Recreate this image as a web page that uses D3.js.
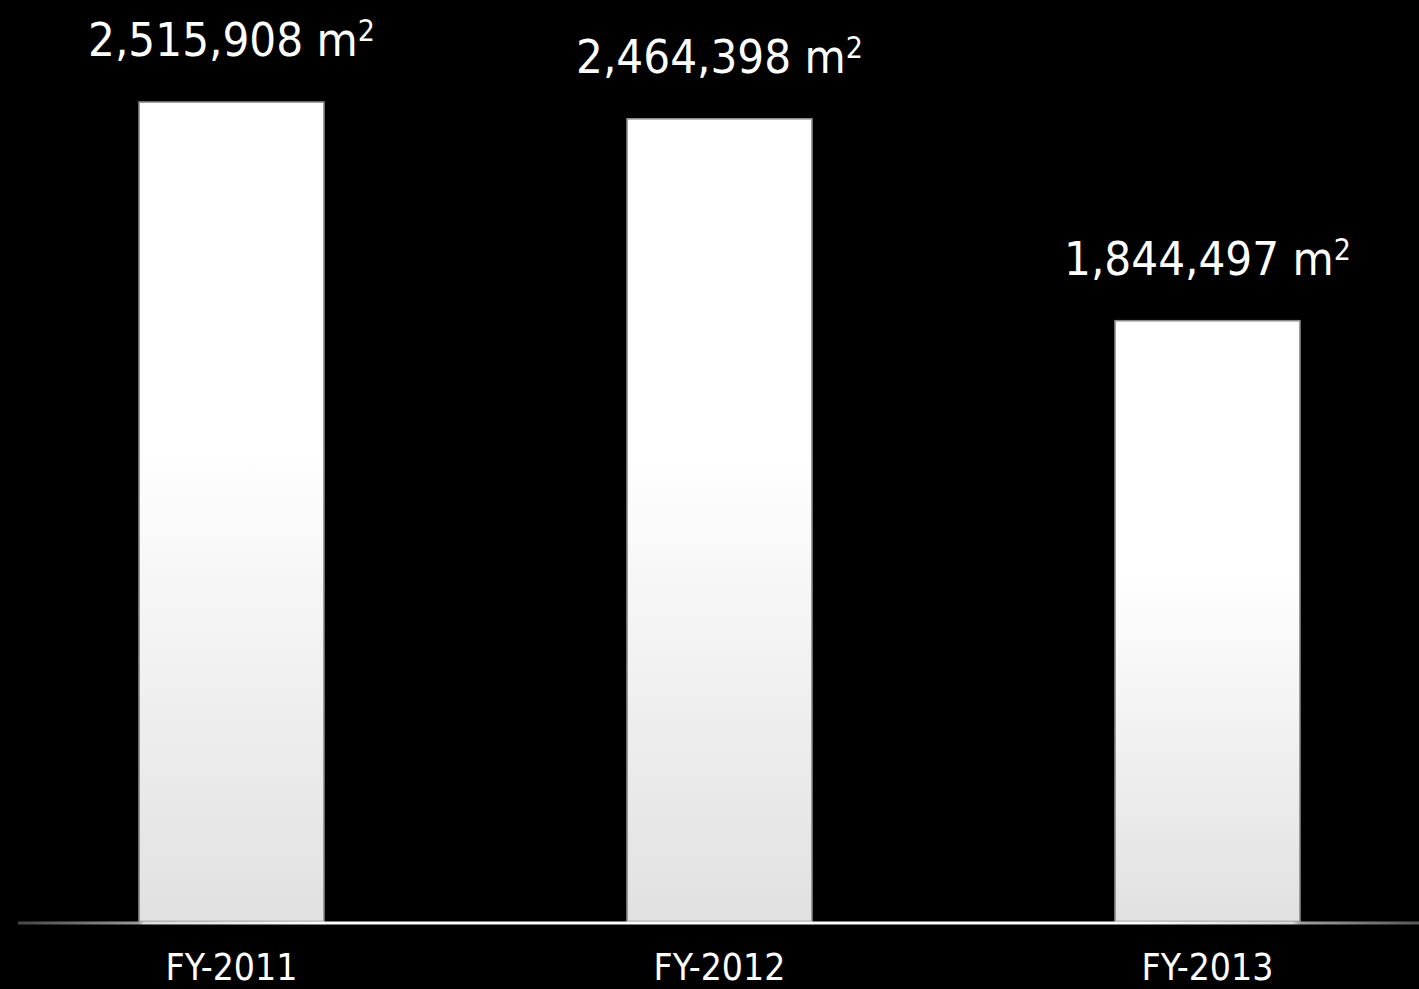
<!DOCTYPE html>
<html>
<head>
<meta charset="utf-8">
<script src="https://cdn.jsdelivr.net/npm/d3@7/dist/d3.min.js"></script>
<style>
  html, body { margin: 0; padding: 0; background: #000; }
  svg { display: block; }
  text { font-family: "DejaVu Sans Condensed", "DejaVu Sans", sans-serif; font-stretch: condensed; fill: #fff; }
</style>
</head>
<body>
<script>
// Floor area by fiscal year
const categories = ["FY-2011", "FY-2012", "FY-2013"];
const areas = [2515908, 2464398, 1844497];
const unitLabel = "m";
const unitPower = "2";

const W = 1419, H = 989;
const baseY = 921.5;

const svg = d3.select("body").append("svg")
  .attr("width", W).attr("height", H);

svg.append("rect").attr("width", W).attr("height", H).attr("fill", "#000");

const defs = svg.append("defs");

// vertical shading of the bars: white on top, light grey at the foot
const barGrad = defs.append("linearGradient")
  .attr("id", "barFill").attr("x1", 0).attr("y1", 0).attr("x2", 0).attr("y2", 1);
barGrad.append("stop").attr("offset", "0%").attr("stop-color", "#ffffff");
barGrad.append("stop").attr("offset", "42%").attr("stop-color", "#ffffff");
barGrad.append("stop").attr("offset", "100%").attr("stop-color", "#e1e1e1");

// baseline fades to grey at both ends
const axisGrad = defs.append("linearGradient")
  .attr("id", "axisFill").attr("x1", 0).attr("y1", 0).attr("x2", 1).attr("y2", 0);
[["0%", "#464646"], ["8.6%", "#9a9a9a"], ["9%", "#dcdcdc"], ["22%", "#ffffff"],
 ["80%", "#ffffff"], ["91%", "#d8d8d8"], ["91.5%", "#a0a0a0"], ["100%", "#585858"]]
  .forEach(([o, c]) => axisGrad.append("stop").attr("offset", o).attr("stop-color", c));

const x = d3.scaleBand()
  .domain(categories)
  .range([-12.5, 1451.5])
  .paddingInner(0.621)
  .paddingOuter(0.3105);

const y = d3.scaleLinear()
  .domain([0, 2800000])
  .range([baseY, 9.5]);

const data = categories.map((c, i) => ({ cat: c, value: areas[i] }));

// bars
svg.selectAll("rect.bar").data(data).join("rect")
  .attr("class", "bar")
  .attr("x", d => x(d.cat))
  .attr("y", d => y(d.value))
  .attr("width", x.bandwidth())
  .attr("height", d => y(0) - y(d.value))
  .attr("fill", "url(#barFill)")
  .attr("stroke", "#8c8c8c")
  .attr("stroke-width", 1.6);

// baseline
svg.append("rect")
  .attr("x", 18).attr("y", y(0))
  .attr("width", W - 18).attr("height", 3)
  .attr("fill", "url(#axisFill)");

// value labels
const fmt = d3.format(",");
const vl = svg.selectAll("text.value").data(data).join("text")
  .attr("class", "value")
  .attr("x", d => x(d.cat) + x.bandwidth() / 2)
  .attr("y", d => y(d.value) - 46)
  .attr("text-anchor", "middle")
  .attr("font-size", 47);
vl.append("tspan").text(d => fmt(d.value) + " " + unitLabel);
vl.append("tspan").attr("font-size", 30).attr("dy", -15).text(unitPower);

// category labels
svg.selectAll("text.cat").data(data).join("text")
  .attr("class", "cat")
  .attr("x", d => x(d.cat) + x.bandwidth() / 2)
  .attr("y", 980)
  .attr("text-anchor", "middle")
  .attr("font-size", 37)
  .text(d => d.cat);
</script>
</body>
</html>
